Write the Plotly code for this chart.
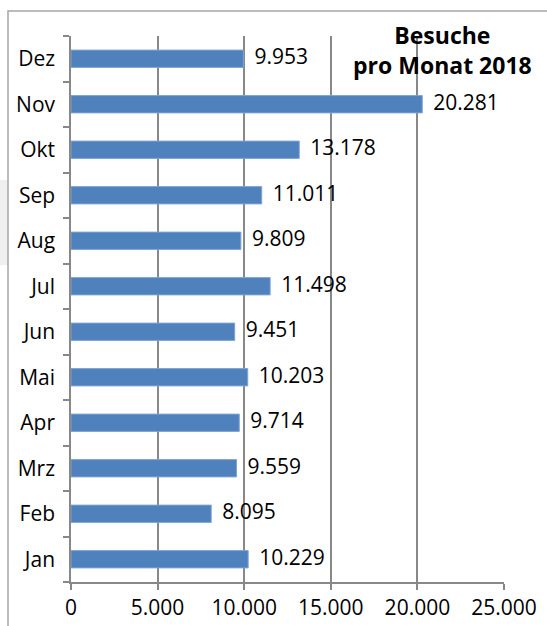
import plotly.graph_objects as go

months = ["Jan", "Feb", "Mrz", "Apr", "Mai", "Jun", "Jul", "Aug", "Sep", "Okt", "Nov", "Dez"]
visits = [10229, 8095, 9559, 9714, 10203, 9451, 11498, 9809, 11011, 13178, 20281, 9953]
x_ticks = [0, 5000, 10000, 15000, 20000, 25000]
title_text = "Besuche<br>pro Monat 2018"

W, H = 547, 626
L, R, T, B = 71, 43, 36, 44
pw, ph = W - L - R, H - T - B

def px(xpix):
    return (xpix - L) / pw

def py(ypix):
    return (H - B - ypix) / ph

font_family = "Open Sans, DejaVu Sans, sans-serif"
grid_col = "#888888"
fs = 21

fig = go.Figure()
fig.add_trace(go.Bar(
    y=months, x=visits, orientation="h",
    marker=dict(color="#4f81bd", line=dict(color="#7ea3d4", width=1)),
    width=0.38, hoverinfo="x+y",
))
fig.add_trace(go.Scatter(
    y=months, x=visits, mode="markers+text",
    marker=dict(size=16, color="rgba(0,0,0,0)"),
    texttemplate="%{x:,}", textposition="middle right",
    textfont=dict(family=font_family, size=fs, color="#000000"),
    cliponaxis=False, hoverinfo="skip",
))

fig.update_layout(
    width=W, height=H,
    margin=dict(l=L, r=R, t=T, b=B),
    paper_bgcolor="white", plot_bgcolor="white",
    separators=",.",
    showlegend=False,
    font=dict(family=font_family, size=fs, color="#000000"),
    xaxis=dict(
        range=[0, 25000], tickvals=x_ticks, tickformat=",",
        showgrid=True, gridcolor=grid_col, gridwidth=1.5,
        showline=True, linecolor=grid_col, linewidth=1.5,
        ticks="outside", ticklen=6, tickcolor=grid_col, tickwidth=1.5,
        zeroline=False, fixedrange=True, automargin=False,
        tickfont=dict(family=font_family, size=fs),
    ),
    yaxis=dict(
        categoryorder="array", categoryarray=months,
        range=[-0.5, len(months) - 0.5],
        showline=True, linecolor=grid_col, linewidth=1.5,
        ticks="outside", ticklen=6, tickcolor=grid_col, tickwidth=1.5,
        tickson="boundaries", showgrid=False, ticklabelstandoff=10,
        automargin=False, fixedrange=True,
        tickfont=dict(family=font_family, size=fs),
    ),
    shapes=[
        dict(type="rect", xref="paper", yref="paper",
             x0=px(-5), x1=px(8), y0=py(265), y1=py(180),
             fillcolor="#efefef", line=dict(width=0), layer="below"),
        dict(type="rect", xref="paper", yref="paper",
             x0=px(8), x1=px(570), y0=py(660), y1=py(11),
             line=dict(color="#a6a6a6", width=1.5), fillcolor="rgba(0,0,0,0)"),
    ],
    annotations=[
        dict(text=title_text, xref="paper", yref="paper",
             x=px(442), y=py(50), xanchor="center", yanchor="middle",
             showarrow=False, align="center",
             font=dict(family=font_family, size=23, color="#000000", weight="bold")),
    ],
)

fig.write_html("out.html", config={"displayModeBar": False},
               post_script="document.body.style.margin='0';document.body.style.overflow='hidden';")
